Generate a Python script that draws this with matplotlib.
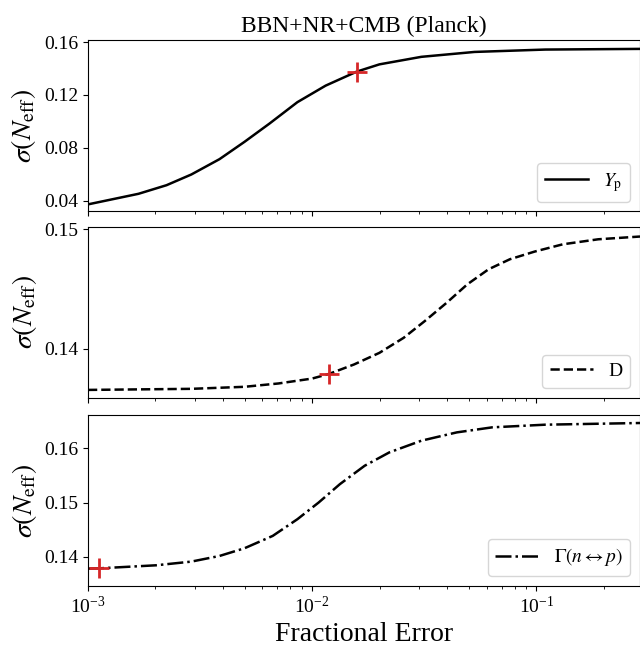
import matplotlib
matplotlib.use("Agg")
import matplotlib.pyplot as plt

plt.rcParams["font.family"] = ["Liberation Serif", "DejaVu Serif"]
plt.rcParams["mathtext.fontset"] = "stix"

# fractional error (x) and sigma(N_eff)
yp_err = [0.001, 0.00168, 0.00224, 0.00289, 0.00386, 0.00499, 0.00646,
          0.00859, 0.01148, 0.0158, 0.01995, 0.0307, 0.053, 0.1096, 0.29]
yp_sig = [0.0372, 0.0452, 0.0517, 0.0598, 0.0714, 0.0845, 0.0984,
          0.1145, 0.127, 0.1376, 0.1431, 0.1488, 0.1525, 0.1543, 0.1548]

d_err = [0.001, 0.00289, 0.00499, 0.00708, 0.01, 0.0119, 0.01538, 0.01995,
         0.0256, 0.0318, 0.0398, 0.0492, 0.0612, 0.0762, 0.0982, 0.1312,
         0.1888, 0.29]
d_sig = [0.13656, 0.13665, 0.13682, 0.1371, 0.13751, 0.1379, 0.13869,
         0.13966, 0.14092, 0.14232, 0.14385, 0.14539, 0.14665, 0.14749,
         0.14813, 0.14874, 0.14916, 0.14939]

g_err = [0.001, 0.00112, 0.00201, 0.00289, 0.00386, 0.00499, 0.00667,
         0.00859, 0.01069, 0.01330, 0.01714, 0.02208, 0.0307, 0.04416,
         0.06353, 0.1096, 0.29]
g_sig = [0.13785, 0.1379, 0.13846, 0.13914, 0.14018, 0.1416, 0.14388,
         0.14695, 0.15003, 0.15342, 0.1568, 0.15926, 0.16142, 0.16295,
         0.16388, 0.16437, 0.16468]

# current errors (red crosses)
mark_err = [0.0158, 0.0119, 0.00112]
mark_sig = [0.1376, 0.1379, 0.1379]

labels = [r"$Y_{\rm p}$", "D", r"$\Gamma(n\leftrightarrow p)$"]
yticks = [[0.04, 0.08, 0.12, 0.16], [0.14, 0.15], [0.14, 0.15, 0.16]]
ylims = [(0.032, 0.1613), (0.1359, 0.1502), (0.13465, 0.16615)]

fig = plt.figure(figsize=(6.4, 6.5), dpi=100)
bottoms = [0.675, 0.388, 0.0985]
h = 0.263
series = [(yp_err, yp_sig, "-"), (d_err, d_sig, "--"), (g_err, g_sig, "-.")]

for i, (xs, ys, ls) in enumerate(series):
    ax = fig.add_axes([0.1375, bottoms[i], 0.8625, h])
    ax.plot(xs, ys, color="black", ls=ls, lw=1.8, label=labels[i])
    ax.plot(mark_err[i], mark_sig[i], marker="+", color="tab:red",
            ms=14, mew=2, ls="none")
    ax.set_xscale("log")
    ax.set_xlim(1e-3, 0.29)
    ax.set_ylim(*ylims[i])
    ax.set_yticks(yticks[i])
    ax.set_ylabel(r"$\sigma(N_{\rm eff})$", fontsize=20)
    ax.tick_params(labelsize=14)
    ax.legend(loc="lower right", fontsize=14, handlelength=2.2)
    if i < 2:
        ax.tick_params(labelbottom=False)
    if i == 0:
        ax.set_title("BBN+NR+CMB (Planck)", fontsize=17)
    if i == 2:
        ax.set_xlabel("Fractional Error", fontsize=20)

fig.savefig("out.png", dpi=100)
